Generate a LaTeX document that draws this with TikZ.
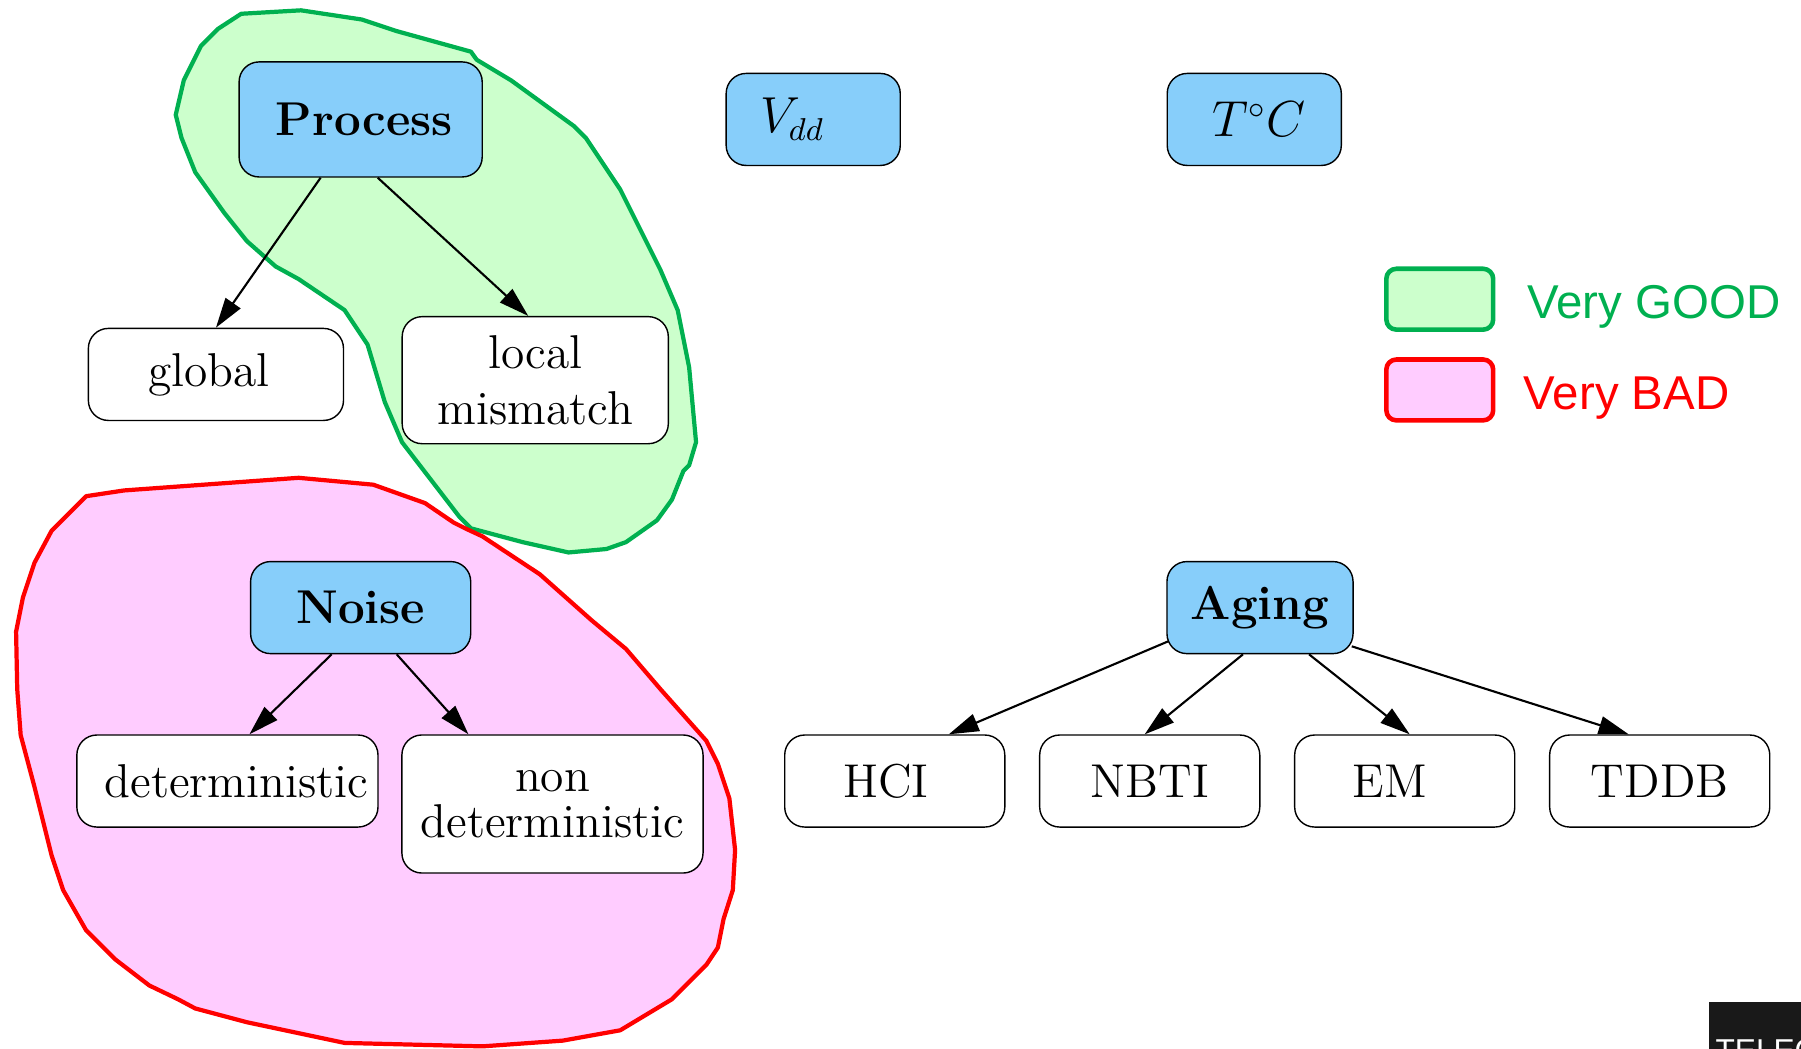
\documentclass[tikz,border=0pt]{standalone}
\usepackage{fontspec}
\newfontfamily\legendfont{Liberation Sans}
\usetikzlibrary{arrows.meta}
\definecolor{nodeblue}{HTML}{87CEFA}
\definecolor{goodgreen}{HTML}{00B050}
\definecolor{goodfill}{HTML}{CCFFCC}
\definecolor{badred}{HTML}{FF0000}
\definecolor{badfill}{HTML}{FFCCFF}
\tikzset{
  factor/.style={draw,fill=nodeblue,rounded corners=2mm,minimum height=9.2mm,inner sep=1mm,font=\fontsize{13.5}{16}\selectfont},
  effect/.style={draw,fill=white,rounded corners=2mm,minimum height=9.2mm,inner sep=1mm,align=center,font=\fontsize{13.5}{16}\selectfont},
  link/.style={-{Triangle[length=3mm,width=1.8mm]},semithick},
  good/.style={draw=goodgreen,fill=goodfill,line width=1.2pt,line join=round},
  bad/.style={draw=badred,fill=badfill,line width=1.2pt,line join=round},
}
\begin{document}
\begin{tikzpicture}[x=0.1148mm,y=-0.1148mm]
  \useasboundingbox (0,0) rectangle (1568,913);
%%% the two regions
  \draw[good] (153,100) -- (160,70) -- (175,40) -- (190,25) -- (210,12) -- (262,9) -- (315,17) -- (345,27) -- (410,45) -- (415,52) -- (445,70) -- (500,110) -- (510,120) -- (540,165) -- (575,235) -- (590,270) -- (600,320) -- (606,385) -- (600,405) -- (595,410) -- (585,435) -- (572,453) -- (545,472) -- (528,478) -- (495,481) -- (455,472) -- (410,460) -- (400,450) -- (350,385) -- (335,350) -- (320,300) -- (300,270) -- (260,243) -- (240,232) -- (215,210) -- (195,185) -- (170,150) -- (158,120) -- cycle;
  \draw[bad] (75,432) -- (108,427) -- (260,416) -- (325,422) -- (370,438) -- (395,455) -- (405,460) -- (420,467) -- (470,500) -- (515,540) -- (545,565) -- (575,600) -- (615,645) -- (625,665) -- (635,695) -- (640,740) -- (638,775) -- (630,800) -- (625,825) -- (615,840) -- (605,850) -- (585,870) -- (565,882) -- (555,888) -- (540,897) -- (490,906) -- (420,911) -- (300,908) -- (215,890) -- (170,878) -- (155,870) -- (130,858) -- (100,835) -- (75,810) -- (55,775) -- (45,745) -- (40,725) -- (30,685) -- (18,640) -- (15,600) -- (14,550) -- (20,520) -- (30,490) -- (45,462) -- cycle;
%%% factors
  \node[factor,minimum width=24.3mm,minimum height=11.5mm] (proc) at (314,104) {\rule{0.7mm}{0pt}\bfseries Process};
  \node[factor,minimum width=17.4mm] (vdd) at (708,104) {$V_{dd}$\rule{4.2mm}{0pt}};
  \node[factor,minimum width=17.4mm] (temp) at (1092,104) {\rule{0.9mm}{0pt}$T^{\circ}C$};
  \node[factor,minimum width=22mm] (noise) at (314,529) {\bfseries Noise};
  \node[factor,minimum width=18.6mm] (aging) at (1097,529) {\bfseries Aging};
%%% effects
  \node[effect,minimum width=25.5mm] (glob) at (188,326) {global\hspace{1.4mm}};
  \node[effect,minimum width=26.6mm,minimum height=12.7mm] (loc) at (466,331) {local\\mismatch};
  \node[effect,minimum width=30.1mm,inner xsep=0.3mm] (det) at (198,680) {\hspace{1.8mm}deterministic};
  \node[effect,minimum width=30.1mm,minimum height=13.8mm] (ndet) at (481,700) {non\\[-3pt]deterministic};
  \node[effect,minimum width=22mm] (hci) at (779,680) {HCI\hspace{1.8mm}};
  \node[effect,minimum width=22mm] (nbti) at (1001,680) {NBTI};
  \node[effect,minimum width=22mm] (em) at (1223,680) {EM\hspace{3mm}};
  \node[effect,minimum width=22mm] (tddb) at (1445,680) {TDDB};
%%% links
  \draw[link] ([xshift=-4mm]proc.south) -- (glob.north);
  \draw[link] ([xshift=1.7mm]proc.south) -- ([xshift=-0.7mm]loc.north);
  \draw[link] ([xshift=-2.9mm]noise.south) -- ([xshift=2.2mm]det.north);
  \draw[link] ([xshift=3.6mm]noise.south) -- ([xshift=-8.4mm]ndet.north);
  \draw[link] ([xshift=0.2mm,yshift=1.3mm]aging.south west) -- ([xshift=5.4mm]hci.north);
  \draw[link] ([xshift=-1.7mm]aging.south) -- ([xshift=-0.5mm]nbti.north);
  \draw[link] ([xshift=4.9mm]aging.south) -- ([xshift=0.5mm]em.north);
  \draw[link] ([xshift=-0.2mm,yshift=0.8mm]aging.south east) -- ([xshift=-3.1mm]tddb.north);
%%% legend
  \draw[good,line width=1.3pt,rounded corners=1mm] (1207,234) rectangle (1300,287);
  \draw[bad,line width=1.3pt,rounded corners=1mm] (1207,313) rectangle (1300,366);
  \node[anchor=west,inner sep=0,text=goodgreen,font=\legendfont\fontsize{13.5}{16}\selectfont] (goodtxt) at (1329,267) {Very GOOD};
  \node[anchor=west,inner sep=0,text=badred,font=\legendfont\fontsize{13.5}{16}\selectfont] (badtxt) at (1326,347) {Very BAD};
%%% logo corner
  \fill[black!90] (1488,872) rectangle (1568,913);
  \begin{scope}
    \clip (1488,872) rectangle (1568,913);
    \node[anchor=north west,inner sep=0,text=white,font=\legendfont\fontsize{9}{10}\selectfont] (logo) at (1493,904) {TELEC};
  \end{scope}
\end{tikzpicture}
\end{document}
